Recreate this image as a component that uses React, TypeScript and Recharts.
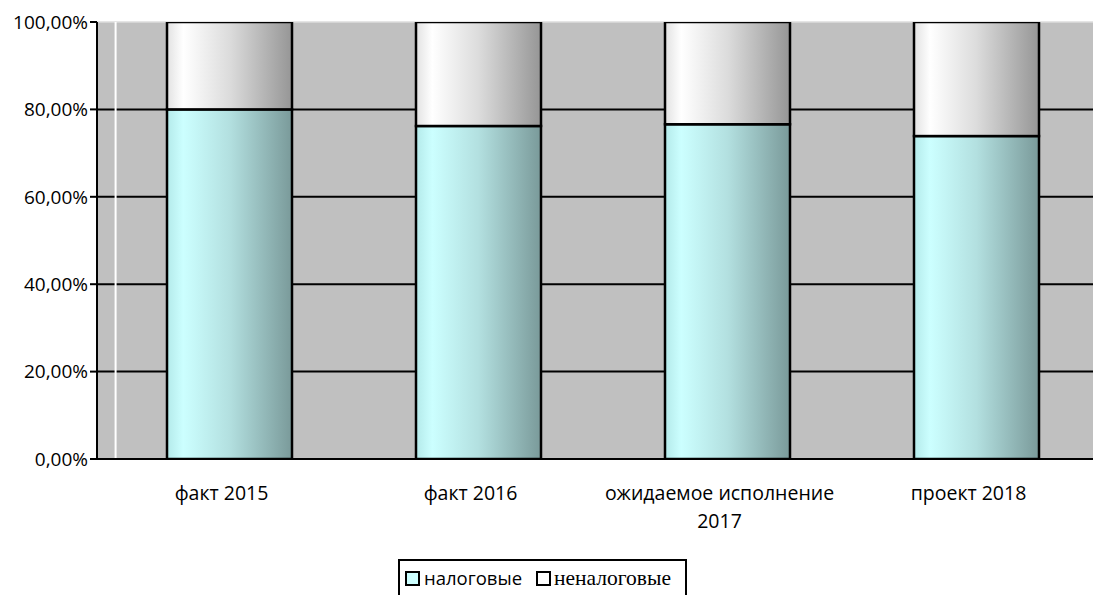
import React from 'react';
import { BarChart, Bar, XAxis, YAxis, CartesianGrid, Legend, ReferenceLine } from 'recharts';

const categories = ['факт 2015', 'факт 2016', 'ожидаемое исполнение 2017', 'проект 2018'];
const taxShare = [80.0, 76.2, 76.6, 73.9];
const nonTaxShare = [20.0, 23.8, 23.4, 26.1];
const yTicks = [0, 20, 40, 60, 80, 100];
const boundaryTicks = [0, 1, 2, 3, 4];
const seriesNames = ['налоговые', 'неналоговые'];

const data = categories.map((c, i) => ({ cat: c, tax: taxShare[i], nontax: nonTaxShare[i] }));

const FONT = '"Open Sans", sans-serif';

const BarShape = (props: any) => {
  const { x, y, width, height, fill } = props;
  if (!height) return null;
  return <rect x={x + 8} y={y} width={width} height={height} fill={fill} stroke="#000" strokeWidth={2.5} />;
};

const splitLabel = (s: string): string[] => {
  if (s.length <= 16) return [s];
  const i = s.lastIndexOf(' ');
  return [s.slice(0, i), s.slice(i + 1)];
};

const CatTick = (props: any) => {
  const { x, y, payload } = props;
  const lines = splitLabel(String(payload.value));
  return (
    <text x={x} y={y} textAnchor="middle" style={{ fontFamily: FONT, fontSize: 19.5, fill: '#000' }}>
      {lines.map((l, i) => (
        <tspan key={i} x={x} dy={i === 0 ? 33 : 28}>
          {l}
        </tspan>
      ))}
    </text>
  );
};

const fmt = (v: number) => v.toFixed(2).replace('.', ',') + '%';

const GridLine = (p: any) => {
  const top = Math.abs(p.y1 - p.y) < 1;
  return (
    <line
      key={p.key}
      x1={p.x1}
      x2={p.x2}
      y1={p.y1}
      y2={p.y2}
      stroke={top ? '#dcdcdc' : '#000'}
      strokeWidth={top ? 1.5 : 2}
    />
  );
};

const Square = ({ color }: { color: string }) => (
  <span
    style={{
      display: 'inline-block',
      width: 11,
      height: 11,
      border: '2px solid #000',
      background: color,
    }}
  />
);

const LegendContent = () => (
  <div
    style={{
      borderTop: '2px solid #000',
      borderLeft: '2px solid #000',
      borderRight: '2px solid #000',
      height: 40,
      boxSizing: 'border-box',
      display: 'flex',
      alignItems: 'center',
      paddingLeft: 5,
      paddingBottom: 3,
      lineHeight: 1,
    }}
  >
    <Square color="#ccffff" />
    <span style={{ fontFamily: FONT, fontSize: 18.5, color: '#000', marginLeft: 4, marginRight: 14 }}>{seriesNames[0]}</span>
    <Square color="#ffffff" />
    <span style={{ fontFamily: '"Liberation Serif", serif', fontSize: 21.5, color: '#000', marginLeft: 3 }}>{seriesNames[1]}</span>
  </div>
);

export default function App() {
  return (
    <div style={{ position: 'absolute', left: 0, top: 0, width: 1098, height: 595, background: '#fff', overflow: 'hidden' }}>
      <BarChart
        width={1098}
        height={595}
        data={data}
        margin={{ top: 22, right: 5, left: 0, bottom: 0 }}
        barSize={125}
      >
        <defs>
          <linearGradient id="gTax" x1="0" y1="0" x2="1" y2="0">
            <stop offset="0" stopColor="#b4eaea" />
            <stop offset="0.13" stopColor="#ccffff" />
            <stop offset="0.5" stopColor="#b3e0e0" />
            <stop offset="1" stopColor="#7a9a9a" />
          </linearGradient>
          <linearGradient id="gNon" x1="0" y1="0" x2="1" y2="0">
            <stop offset="0" stopColor="#e2e2e2" />
            <stop offset="0.13" stopColor="#ffffff" />
            <stop offset="0.5" stopColor="#dcdcdc" />
            <stop offset="1" stopColor="#969696" />
          </linearGradient>
        </defs>
        <CartesianGrid vertical={false} fill="#c0c0c0" horizontal={GridLine} />
        <XAxis
          xAxisId="bounds"
          type="number"
          domain={[0, 4]}
          ticks={boundaryTicks}
          height={0}
          axisLine={false}
          tick={<g />}
          tickLine={{ stroke: '#000', strokeWidth: 2 }}
          tickSize={8}
          allowDataOverflow
        />
        <XAxis
          dataKey="cat"
          height={136}
          interval={0}
          tickLine={false}
          axisLine={{ stroke: '#000', strokeWidth: 2 }}
          tick={<CatTick />}
        />
        <YAxis
          width={97}
          domain={[0, 100]}
          ticks={yTicks}
          tickFormatter={fmt}
          axisLine={{ stroke: '#000', strokeWidth: 2 }}
          tickLine={{ stroke: '#000', strokeWidth: 2 }}
          tickSize={7}
          tick={{ fontFamily: FONT, fontSize: 19, fill: '#000' }}
          allowDataOverflow
        />
        <ReferenceLine xAxisId="bounds" x={0.056} stroke="#ffffff" strokeWidth={2} />
        <Bar dataKey="tax" name={seriesNames[0]} stackId="s" fill="url(#gTax)" shape={<BarShape />} isAnimationActive={false} />
        <Bar dataKey="nontax" name={seriesNames[1]} stackId="s" fill="url(#gNon)" shape={<BarShape />} isAnimationActive={false} />
        <Legend
          layout="horizontal"
          verticalAlign="middle"
          align="center"
          content={<LegendContent />}
          wrapperStyle={{ left: 398, top: 559, width: 289, height: 40 }}
        />
      </BarChart>
    </div>
  );
}
